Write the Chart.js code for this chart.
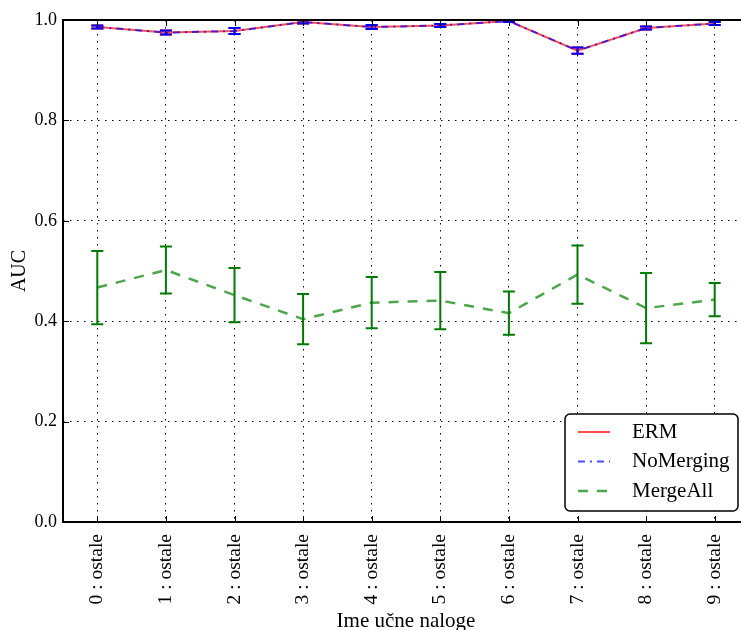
<!DOCTYPE html>
<html>
<head>
<meta charset="utf-8">
<script src="https://cdn.jsdelivr.net/npm/chart.js@4.4.1/dist/chart.umd.min.js"></script>
<style>
    html, body { margin: 0; padding: 0; background: #fff; overflow: hidden; }
    #wrap { width: 760px; height: 630px; }
</style>
</head>
<body>
<div id="wrap"><canvas id="aucChart"></canvas></div>
<script>
// naloge (x os)
const labels = ['0 : ostale', '1 : ostale', '2 : ostale', '3 : ostale', '4 : ostale',
                '5 : ostale', '6 : ostale', '7 : ostale', '8 : ostale', '9 : ostale'];

// povprecni AUC in napake
const ermMean = [0.986, 0.975, 0.978, 0.996, 0.986, 0.989, 0.998, 0.939, 0.984, 0.993];
const ermErr  = [0.003, 0.004, 0.006, 0.003, 0.004, 0.003, 0.002, 0.006, 0.003, 0.003];
const noMergingMean = [0.986, 0.975, 0.978, 0.996, 0.986, 0.989, 0.998, 0.939, 0.984, 0.993];
const noMergingErr  = [0.003, 0.004, 0.006, 0.003, 0.004, 0.003, 0.002, 0.006, 0.003, 0.003];
const mergeAllMean = [0.467, 0.502, 0.452, 0.404, 0.437, 0.441, 0.416, 0.493, 0.426, 0.443];
const mergeAllErr  = [0.073, 0.047, 0.054, 0.050, 0.051, 0.057, 0.043, 0.058, 0.070, 0.033];

const yTicks = [0.0, 0.2, 0.4, 0.6, 0.8, 1.0];

const serif = 'Liberation Serif';

// error bari (navpicna crta + kapice)
const errorBars = {
    id: 'errorBars',
    afterDatasetsDraw(chart) {
        const ctx = chart.ctx;
        const area = chart.chartArea;
        const x = chart.scales.x, y = chart.scales.y;
        ctx.save();
        ctx.beginPath();
        ctx.rect(area.left, area.top - 1, area.right - area.left, area.bottom - area.top + 2);
        ctx.clip();
        // risemo v obratnem vrstnem redu, da je prvi na vrhu
        const order = chart.data.datasets.map((d, i) => i).sort((a, b) => chart.data.datasets[b].order - chart.data.datasets[a].order);
        order.forEach(i => {
            const ds = chart.data.datasets[i];
            if (!ds.errs) return;
            ctx.strokeStyle = ds.errColor;
            ctx.lineWidth = 2;
            ctx.setLineDash([]);
            ds.data.forEach((v, j) => {
                const px = x.getPixelForValue(j);
                const top = y.getPixelForValue(v + ds.errs[j]);
                const bot = y.getPixelForValue(v - ds.errs[j]);
                ctx.beginPath();
                ctx.moveTo(px, top); ctx.lineTo(px, bot);
                ctx.moveTo(px - 6, top); ctx.lineTo(px + 6, top);
                ctx.moveTo(px - 6, bot); ctx.lineTo(px + 6, bot);
                ctx.stroke();
            });
        });
        ctx.restore();
    }
};

// okvir, notranji tiki in legenda
const frameAndLegend = {
    id: 'frameAndLegend',
    afterDraw(chart) {
        const ctx = chart.ctx;
        const a = chart.chartArea;
        const x = chart.scales.x, y = chart.scales.y;
        ctx.save();
        ctx.setLineDash([]);
        ctx.strokeStyle = '#000';
        ctx.lineWidth = 1;
        ctx.beginPath();
        labels.forEach((l, i) => {
            const px = Math.round(x.getPixelForValue(i)) + 0.5;
            ctx.moveTo(px, a.bottom); ctx.lineTo(px, a.bottom - 6);
            ctx.moveTo(px, a.top); ctx.lineTo(px, a.top + 6);
        });
        yTicks.forEach(v => {
            const py = Math.round(y.getPixelForValue(v)) + 0.5;
            ctx.moveTo(a.left, py); ctx.lineTo(a.left + 6, py);
            ctx.moveTo(a.right, py); ctx.lineTo(a.right - 6, py);
        });
        ctx.stroke();

        ctx.lineWidth = 2;
        ctx.strokeRect(a.left, a.top, a.right - a.left, a.bottom - a.top);

        // legenda
        const w = 173, h = 97;
        const lx = a.right - 11 - w, ly = a.bottom - 11 - h;
        ctx.fillStyle = '#fff';
        ctx.lineWidth = 1.5;
        ctx.beginPath();
        ctx.roundRect(lx, ly, w, h, 5);
        ctx.fill();
        ctx.stroke();
        const items = [0, 1, 2].map(i => chart.data.datasets[i]);
        ctx.font = '21px "' + serif + '"';
        ctx.textBaseline = 'middle';
        items.forEach((ds, k) => {
            const cy = ly + 18 + k * 29.5;
            ctx.strokeStyle = ds.borderColor;
            ctx.lineWidth = ds.borderWidth;
            ctx.setLineDash(ds.borderDash || []);
            ctx.beginPath();
            ctx.moveTo(lx + 13, cy); ctx.lineTo(lx + 45, cy);
            ctx.stroke();
            ctx.setLineDash([]);
            ctx.fillStyle = '#000';
            ctx.fillText(ds.label, lx + 67, cy);
        });
        ctx.restore();
    }
};

const ctx = document.getElementById('aucChart').getContext('2d');
const aucChart = new Chart(ctx, {
    type: 'line',
    data: {
        labels: labels,
        datasets: [{
            label: 'ERM',
            data: ermMean,
            errs: ermErr,
            errColor: '#ff0000',
            borderColor: 'rgba(255, 0, 0, 0.7)',
            borderWidth: 2,
            order: 1
        }, {
            label: 'NoMerging',
            data: noMergingMean,
            errs: noMergingErr,
            errColor: '#0000ff',
            borderColor: 'rgba(0, 0, 255, 0.7)',
            borderWidth: 2,
            borderDash: [7, 5, 2, 5],
            order: 0
        }, {
            label: 'MergeAll',
            data: mergeAllMean,
            errs: mergeAllErr,
            errColor: '#007a00',
            borderColor: 'rgba(0, 128, 0, 0.7)',
            borderWidth: 2.5,
            borderDash: [10, 9],
            order: 2
        }]
    },
    options: {
        responsive: true,
        maintainAspectRatio: false,
        animation: false,
        layout: { padding: { top: 20, right: 11, left: 0, bottom: 0 } },
        elements: {
            point: { radius: 0, hoverRadius: 0 },
            line: { tension: 0, fill: false }
        },
        plugins: {
            legend: { display: false },
            tooltip: { enabled: false }
        },
        scales: {
            x: {
                type: 'category',
                offset: true,
                afterFit(scale) { scale.height = 108; },
                grid: { color: '#000', lineWidth: 1, drawTicks: false, offset: false },
                border: { display: false, dash: [1.5, 5.5] },
                ticks: {
                    autoSkip: false, minRotation: 90, maxRotation: 90, padding: 12,
                    color: '#000', font: { family: serif, size: 19.5 }
                },
                title: {
                    display: true, text: 'Ime učne naloge', color: '#000',
                    font: { family: serif, size: 21 }, padding: { top: 0, bottom: -4 }
                }
            },
            y: {
                min: 0, max: 1,
                afterFit(scale) { scale.width = 63; },
                afterBuildTicks(scale) { scale.ticks = yTicks.map(v => ({ value: v })); },
                grid: { color: '#000', lineWidth: 1, drawTicks: false },
                border: { display: false, dash: [1.5, 5.5] },
                ticks: {
                    padding: 6, color: '#000', font: { family: serif, size: 18 },
                    callback: v => v.toFixed(1)
                },
                title: {
                    display: true, text: 'AUC', color: '#000',
                    font: { family: serif, size: 20 }, padding: { top: 8, bottom: 0 }
                }
            }
        }
    },
    plugins: [errorBars, frameAndLegend]
});
</script>
</body>
</html>
